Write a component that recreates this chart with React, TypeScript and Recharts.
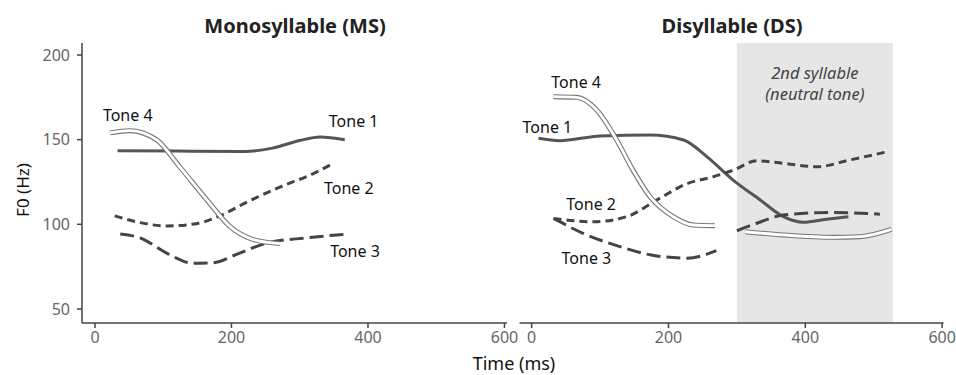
import React from 'react';
import { LineChart, Line, XAxis, YAxis, ReferenceArea, ReferenceDot } from 'recharts';

// F0 contours: [time ms, F0 Hz]
const msTone1 = [[33, 143.5], [120, 143.3], [220, 143], [260, 145], [300, 149.5], [330, 151.5], [366, 150]];
const msTone2 = [[29, 105], [66, 101], [105, 99], [150, 100.5], [183, 105], [222, 113], [271, 122], [320, 130], [349, 136]];
const msTone3 = [[37, 94.3], [66, 92], [105, 83], [144, 77], [173, 77.3], [212, 83], [251, 88.8], [310, 92], [364, 94]];
const msTone4 = [[22, 154], [51, 155.3], [90, 150], [124, 134], [164, 114.4], [198, 98.6], [232, 91], [271, 88.6]];

const dsTone1 = [[10, 150.8], [41, 149.4], [100, 152.2], [173, 152.7], [222, 149.8], [256, 140], [295, 126], [334, 114.4], [368, 104.5], [397, 101.2], [431, 103], [463, 104.5]];
const dsTone2 = [[32, 103.5], [90, 101.5], [139, 104.5], [183, 114.4], [227, 124], [265, 128], [295, 132], [329, 137.5], [368, 136], [417, 134], [465, 138], [516, 142.5]];
const dsTone3a = [[32, 103.5], [75, 94.7], [129, 86.8], [173, 82], [227, 80], [270, 84.5]];
const dsTone3b = [[300, 96.2], [329, 100.6], [368, 105.5], [441, 107], [509, 106]];
const dsTone4a = [[32, 175.4], [66, 175], [95, 167.5], [124, 150], [148, 132], [173, 116.3], [207, 104.5], [236, 99.6], [268, 99.2]];
const dsTone4b = [[312, 95.6], [368, 93.7], [441, 92.3], [480, 92.7], [526, 97]];

const secondSyllable = [300, 528];

const xTicks = [0, 200, 400, 600];
const yTicks = [50, 100, 150, 200];

// label anchors in data space
const msLabels: [string, number, number][] = [['Tone 4', 48, 164.6], ['Tone 1', 379, 161], ['Tone 2', 372, 121.4], ['Tone 3', 381, 84.2]];
const dsLabels: [string, number, number][] = [['Tone 4', 65, 184], ['Tone 1', 23, 157.5], ['Tone 2', 87, 112], ['Tone 3', 80, 80.3]];
const dsNote: [string, number, number][] = [['2nd syllable', 414, 189.5], ['(neutral tone)', 414, 177]];

const toRows = (pts: number[][]) => pts.map(([t, f]) => ({ t, f }));

const FONT = '"Noto Sans", sans-serif';
const AXIS = '#444';
const tickStyle = { fill: '#666', fontSize: 16, fontFamily: FONT };

function toneLines(t1: number[][], t2: number[][], t3: number[][][], t4: number[][][]) {
    const out: React.ReactNode[] = [];
    out.push(<Line key="t1" data={toRows(t1)} dataKey="f" type="monotone" stroke="#555" strokeWidth={3} dot={false} isAnimationActive={false} />);
    out.push(<Line key="t2" data={toRows(t2)} dataKey="f" type="monotone" stroke="#444" strokeWidth={3} strokeDasharray="8 5" dot={false} isAnimationActive={false} />);
    t3.forEach((seg, i) => out.push(
        <Line key={'t3' + i} data={toRows(seg)} dataKey="f" type="monotone" stroke="#444" strokeWidth={3} strokeDasharray="14 6" dot={false} isAnimationActive={false} />
    ));
    // tone 4 is drawn as a hollow double line
    t4.forEach((seg, i) => {
        out.push(<Line key={'t4o' + i} data={toRows(seg)} dataKey="f" type="monotone" stroke="#777" strokeWidth={5} dot={false} isAnimationActive={false} />);
        out.push(<Line key={'t4i' + i} data={toRows(seg)} dataKey="f" type="monotone" stroke="#fff" strokeWidth={2.8} dot={false} isAnimationActive={false} />);
    });
    return out;
}

function labelDots(labels: [string, number, number][], italic = false) {
    return labels.map(([text, x, y]) => (
        <ReferenceDot
            key={text + x}
            x={x}
            y={y}
            r={0}
            shape={(p: any) => (
                <text x={p.cx} y={p.cy} textAnchor="middle" dominantBaseline="central"
                    fontFamily={FONT} fontSize={italic ? 16.5 : 16} fill={italic ? '#444' : '#111'} fontStyle={italic ? 'italic' : 'normal'}>
                    {text}
                </text>
            )}
        />
    ));
}

export default function App() {
    return (
        <div style={{ position: 'absolute', left: 0, top: 0, width: 956, height: 375, background: '#fff', fontFamily: FONT }}>
            <div style={{ position: 'absolute', left: 0, width: 590, top: 12, textAlign: 'center', fontWeight: 700, fontSize: 20, color: '#222' }}>
                Monosyllable (MS)
            </div>
            <div style={{ position: 'absolute', left: 540, width: 384, top: 12, textAlign: 'center', fontWeight: 700, fontSize: 20, color: '#222' }}>
                Disyllable (DS)
            </div>
            <div style={{ position: 'absolute', left: 0, width: 1028, top: 351, textAlign: 'center', fontSize: 18, color: '#111' }}>
                Time (ms)
            </div>
            <div style={{ position: 'absolute', left: 22, top: 190, transform: 'translate(-50%, -50%) rotate(-90deg)', fontSize: 17, color: '#111', whiteSpace: 'nowrap' }}>
                F0 (Hz)
            </div>

            <div style={{ position: 'absolute', left: 0, top: 0 }}>
                <LineChart width={520} height={375} margin={{ top: 43, right: 13, bottom: 22, left: 22 }}>
                    <XAxis type="number" dataKey="t" domain={[-19, 603.7]} ticks={xTicks} allowDataOverflow
                        stroke={AXIS} strokeWidth={1.5} tickSize={5} tickMargin={4} tick={tickStyle} height={30} />
                    <YAxis type="number" dataKey="f" domain={[41.7, 207.1]} ticks={yTicks} allowDataOverflow
                        stroke={AXIS} strokeWidth={1.5} tickSize={5} tickMargin={7} tick={tickStyle} width={60} />
                    {toneLines(msTone1, msTone2, [msTone3], [msTone4])}
                    {labelDots(msLabels)}
                </LineChart>
            </div>

            <div style={{ position: 'absolute', left: 480, top: 0 }}>
                <LineChart width={476} height={375} margin={{ top: 43, right: 12.5, bottom: 22, left: 39.5 }}>
                    <XAxis type="number" dataKey="t" domain={[-17.8, 602]} ticks={xTicks} allowDataOverflow
                        stroke={AXIS} strokeWidth={1.5} tickSize={5} tickMargin={4} tick={tickStyle} height={30} />
                    <YAxis type="number" dataKey="f" domain={[41.7, 207.1]} allowDataOverflow hide />
                    <ReferenceArea x1={secondSyllable[0]} x2={secondSyllable[1]} fill="#e6e6e6" fillOpacity={1} stroke="none" />
                    {toneLines(dsTone1, dsTone2, [dsTone3a, dsTone3b], [dsTone4a, dsTone4b])}
                    {labelDots(dsLabels)}
                    {labelDots(dsNote, true)}
                </LineChart>
            </div>
        </div>
    );
}
